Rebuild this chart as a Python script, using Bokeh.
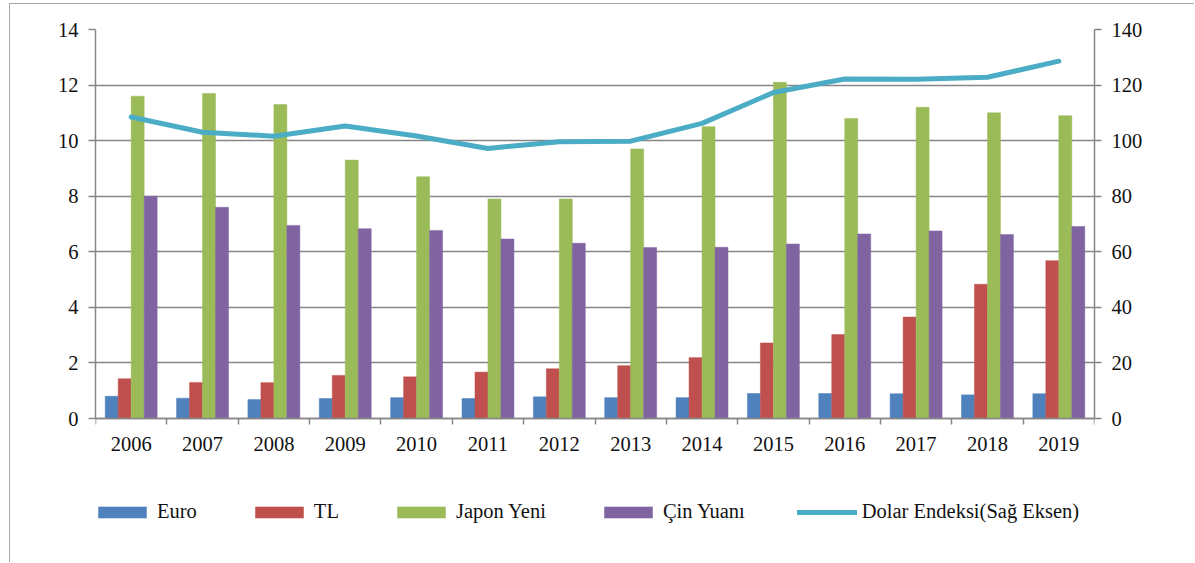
from bokeh.plotting import figure
from bokeh.models import (Range1d, LinearAxis, CategoricalAxis, FixedTicker, Legend, LegendItem,
                          FactorRange, ColumnDataSource)
from bokeh.transform import dodge
from bokeh.embed import file_html
from bokeh.resources import INLINE

years = ["2006", "2007", "2008", "2009", "2010", "2011", "2012", "2013", "2014",
         "2015", "2016", "2017", "2018", "2019"]
euro = [0.80, 0.73, 0.68, 0.72, 0.75, 0.72, 0.78, 0.75, 0.75, 0.90, 0.90, 0.89, 0.85, 0.89]
tl = [1.43, 1.30, 1.29, 1.55, 1.50, 1.67, 1.79, 1.90, 2.19, 2.72, 3.02, 3.65, 4.83, 5.68]
yen = [11.6, 11.7, 11.3, 9.3, 8.7, 7.9, 7.9, 9.7, 10.5, 12.1, 10.8, 11.2, 11.0, 10.9]
yuan = [8.00, 7.60, 6.95, 6.83, 6.77, 6.46, 6.31, 6.15, 6.16, 6.28, 6.64, 6.75, 6.62, 6.91]
dxy = [108.5, 103.0, 101.6, 105.3, 101.7, 97.2, 99.6, 99.8, 106.2, 117.3, 122.2, 122.1, 122.8, 128.6]

left_ticks = [0, 2, 4, 6, 8, 10, 12, 14]
right_ticks = [0, 20, 40, 60, 80, 100, 120, 140]

FONT = "Liberation Serif"
FS = "20.5px"
GRAY = "#868686"

# layout (pixels): data area height and the space kept under the zero line for labels/legend
DATA_PX = 389
UNDER_PX = 145
left_max, right_max = 14, 140
left_min = -left_max * UNDER_PX / DATA_PX
right_min = -right_max * UNDER_PX / DATA_PX

src = ColumnDataSource(dict(year=years, euro=euro, tl=tl, yen=yen, yuan=yuan, dxy=dxy))

p = figure(x_range=FactorRange(*years), y_range=Range1d(left_min, left_max), width=1185, height=559,
           output_backend="svg", toolbar_location=None, x_axis_location=None,
           y_axis_location=None,
           min_border_left=85, min_border_right=101, min_border_top=25, min_border_bottom=0)
p.styles = {"border-left": "1px solid #a6a6a6", "border-top": "1px solid #a6a6a6",
            "margin-left": "9px", "margin-top": "3px"}
p.outline_line_color = None
p.background_fill_color = "white"
p.border_fill_color = "white"

p.extra_y_ranges = {"right": Range1d(right_min, right_max)}

w = 0.182
colors = ["#4F81BD", "#C0504D", "#9BBB59", "#8064A2"]
fields = ["euro", "tl", "yen", "yuan"]
offs = [-1.5 * w, -0.5 * w, 0.5 * w, 1.5 * w]
renderers = []
for f, c, o in zip(fields, colors, offs):
    r = p.vbar(x=dodge("year", o, range=p.x_range), top=f, width=w, bottom=0, source=src,
               fill_color=c, line_color=c, line_width=0.5)
    renderers.append(r)

ln = p.line(x="year", y="dxy", source=src, y_range_name="right", line_color="#4BACC6",
            line_width=5, line_cap="round", line_join="round")

# grid
p.xgrid.visible = False
p.ygrid.ticker = FixedTicker(ticks=left_ticks)
p.ygrid.grid_line_color = GRAY
p.ygrid.grid_line_width = 1.5

# left axis
ly = LinearAxis(ticker=FixedTicker(ticks=left_ticks), bounds=(0, left_max))
# right axis
ry = LinearAxis(y_range_name="right", ticker=FixedTicker(ticks=right_ticks), bounds=(0, right_max))
for ax in (ly, ry):
    ax.axis_line_color = GRAY
    ax.axis_line_width = 1.5
    ax.major_tick_line_color = GRAY
    ax.major_tick_line_width = 1.5
    ax.major_tick_out = 7
    ax.major_tick_in = 0
    ax.minor_tick_line_color = None
    ax.major_label_text_font = FONT
    ax.major_label_text_font_size = FS
    ax.major_label_text_color = "#111111"
    ax.major_label_standoff = 10
p.add_layout(ly, "left")
p.add_layout(ry, "right")

# bottom tick axis at category boundaries (synthetic coordinates of the factor range), at y=0
tx = LinearAxis(ticker=FixedTicker(ticks=list(range(len(years) + 1))), fixed_location=0)
tx.axis_line_color = GRAY
tx.axis_line_width = 1.5
tx.major_tick_line_color = GRAY
tx.major_tick_line_width = 1.5
tx.major_tick_out = 6
tx.major_tick_in = 0
tx.minor_tick_line_color = None
tx.major_label_overrides = {i: "" for i in range(len(years) + 1)}
tx.major_label_standoff = 0
p.add_layout(tx, "below")

# category labels axis, at y=0
cx = CategoricalAxis(fixed_location=0)
cx.axis_line_color = None
cx.major_tick_line_color = None
cx.major_tick_out = 0
cx.major_label_text_font = FONT
cx.major_label_text_font_size = FS
cx.major_label_text_color = "#111111"
cx.major_label_standoff = 18
p.add_layout(cx, "below")

labels = ["Euro", "TL", "Japon Yeni", "Çin Yuanı"]
items = [LegendItem(label=l, renderers=[r]) for l, r in zip(labels, renderers)]
items.append(LegendItem(label="Dolar Endeksi(Sağ Eksen)", renderers=[ln]))
legend = Legend(items=items, orientation="horizontal", location=(-3, 40),
                nrows=1, ncols=5,
                label_text_font=FONT, label_text_font_size=FS, label_text_color="#111111",
                glyph_width=60, glyph_height=14, label_standoff=5, spacing=52,
                border_line_color=None, background_fill_alpha=0, padding=0, margin=0)
p.add_layout(legend, "center")

open("out.html", "w").write(file_html(p, INLINE))
